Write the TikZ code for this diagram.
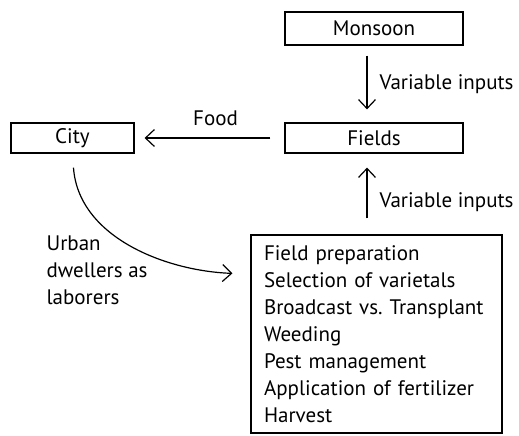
\documentclass[tikz,border=0pt]{standalone}
\usepackage{fontspec}
\setmainfont{PT Sans}
\usetikzlibrary{arrows.meta,positioning}

\begin{document}
\begin{tikzpicture}[x=1pt, y=-1pt, line width=1.2pt,
    >={Straight Barb[length=9pt,width=17pt]},
    every node/.style={font=\fontsize{21}{27}\selectfont},
    box/.style={draw, minimum width=178pt, minimum height=33pt, inner sep=0pt},
    lbl/.style={inner sep=0pt}]
    \useasboundingbox (0,0) rectangle (519,436);

    % Boxes
    \node[box] (monsoon) at (374,28.5) {Monsoon};
    \node[box, minimum height=30pt] (fields) at (374,138) {Fields};
    \node[box, minimum width=123pt, minimum height=30pt] (city) at (72.5,138) {City};

    % Farm work list
    \node[draw, minimum width=251pt, minimum height=198pt, text width=225pt,
          align=left, inner xsep=13pt] (tasks) at (376.5,334)
        {Field preparation\\Selection of varietals\\Broadcast vs.\ Transplant\\Weeding\\Pest management\\Application of fertilizer\\Harvest};

    % Arrows
    \draw[->, shorten <=10pt, shorten >=13pt] ([xshift=-7pt]monsoon.south) -- ([xshift=-7pt]fields.north)
        node[lbl, midway, right=12pt] {Variable inputs};
    \draw[->, shorten <=16pt, shorten >=14pt] ([xshift=-7pt]tasks.north -| fields) -- ([xshift=-7pt]fields.south)
        node[lbl, pos=0.4, right=12pt] {Variable inputs};
    \draw[->, shorten <=14pt, shorten >=10pt] (fields) -- (city)
        node[lbl, pos=0.46, above=12pt] {Food};

    % Urban labor curve
    \draw[->, shorten <=14pt, shorten >=18pt] (city.south) to[out=-86, in=178] ([yshift=60pt]tasks.west);
    \node[lbl, align=left, anchor=west] (urban) at (46,270) {Urban\\dwellers as\\laborers};
\end{tikzpicture}
\end{document}
